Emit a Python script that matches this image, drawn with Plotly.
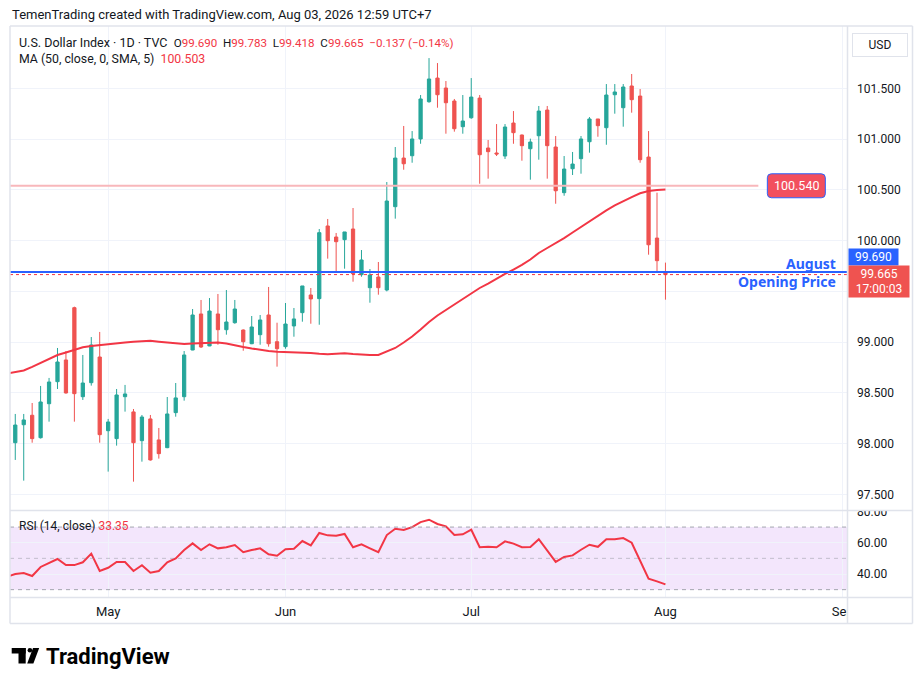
import pandas as pd
import plotly.graph_objects as go
from plotly.subplots import make_subplots

# --- data (DXY daily, TVC) ---
dates = pd.bdate_range("2026-04-16", "2026-08-03").strftime("%Y-%m-%d").tolist()

opens = [98.009, 98.186, 98.279, 98.058, 98.393, 98.610, 98.824, 99.339, 98.462, 98.600,
         98.853, 98.127, 98.049, 98.462, 98.312, 98.029, 98.243, 98.036, 97.960, 98.305,
         98.462, 98.922, 99.277, 98.962, 99.277, 99.122, 99.191, 99.119, 98.984, 99.073,
         99.267, 99.004, 98.955, 99.159, 99.290, 99.464, 99.428, 100.144, 100.035, 100.009,
         100.114, 99.664, 99.536, 99.641, 99.513, 100.334, 100.813, 100.836, 101.001, 101.368,
         101.601, 101.503, 101.375, 101.122, 101.210, 101.404, 100.912, 100.863, 100.833, 101.158,
         101.040, 100.905, 101.033, 101.286, 100.922, 100.472, 100.708, 100.807, 100.974, 101.198,
         101.112, 101.437, 101.309, 101.523, 101.424, 100.823, 100.025, 99.690]
highs = [98.292, 98.292, 98.400, 98.568, 98.647, 98.942, 98.912, 99.349, 98.873, 99.050,
         99.100, 98.243, 98.538, 98.578, 98.341, 98.282, 98.282, 98.154, 98.459, 98.597,
         98.912, 99.326, 99.415, 99.434, 99.474, 99.513, 99.415, 99.125, 99.257, 99.267,
         99.543, 99.191, 99.385, 99.336, 99.553, 99.533, 100.114, 100.213, 100.075, 100.085,
         100.321, 99.907, 99.720, 99.789, 100.577, 100.922, 101.129, 101.079, 101.434, 101.798,
         101.749, 101.572, 101.395, 101.434, 101.601, 101.434, 100.991, 101.148, 101.148, 101.276,
         101.045, 101.004, 101.326, 101.326, 101.030, 100.833, 100.873, 101.030, 101.217, 101.198,
         101.542, 101.542, 101.542, 101.641, 101.493, 101.079, 100.472, 99.783]
lows = [97.839, 97.635, 98.009, 98.050, 98.216, 98.538, 98.492, 98.216, 98.430, 98.571,
        98.009, 97.724, 97.980, 98.315, 97.625, 97.822, 97.832, 97.852, 97.955, 98.265,
        98.423, 98.920, 98.942, 98.960, 98.974, 99.073, 99.181, 98.915, 98.980, 98.974,
        98.955, 98.758, 98.935, 99.053, 99.201, 99.181, 99.171, 99.822, 99.684, 99.723,
        99.595, 99.644, 99.388, 99.467, 99.500, 100.216, 100.698, 100.767, 100.954, 101.358,
        101.309, 101.053, 101.073, 101.053, 101.200, 100.560, 100.610, 100.833, 100.804, 100.954,
        100.787, 100.600, 100.797, 100.610, 100.363, 100.442, 100.646, 100.659, 100.866, 101.023,
        100.944, 101.250, 101.122, 101.260, 100.767, 99.861, 99.694, 99.418]
closes = [98.183, 98.233, 98.049, 98.410, 98.607, 98.804, 98.499, 98.492, 98.597, 98.972,
          98.088, 98.213, 98.479, 98.489, 98.009, 98.262, 97.839, 97.901, 98.292, 98.450,
          98.873, 99.267, 98.952, 99.306, 99.122, 99.198, 99.326, 99.004, 99.149, 99.218,
          98.984, 98.935, 99.178, 99.228, 99.553, 99.425, 100.078, 99.999, 99.989, 100.085,
          99.674, 99.809, 99.661, 99.536, 100.390, 100.813, 100.757, 101.001, 101.395, 101.592,
          101.437, 101.358, 101.102, 101.178, 101.414, 100.846, 100.876, 100.853, 101.119, 101.063,
          100.935, 100.971, 101.276, 100.935, 100.491, 100.705, 100.754, 101.001, 101.198, 101.132,
          101.434, 101.464, 101.513, 101.388, 100.797, 99.959, 99.802, 99.665]

# indicators start one bar earlier so the lines enter from the left edge
ind_dates = ["2026-04-15"] + dates
ma50 = [98.691, 98.706, 98.720, 98.755, 98.794, 98.837, 98.873, 98.898, 98.925, 98.949,
        98.962, 98.972, 98.981, 98.988, 98.996, 99.004, 99.011, 99.013, 99.004, 98.994,
        98.986, 98.981, 98.986, 98.988, 98.994, 98.996, 98.986, 98.967, 98.952, 98.937,
        98.922, 98.912, 98.906, 98.903, 98.901, 98.900, 98.893, 98.885, 98.880, 98.885,
        98.890, 98.883, 98.876, 98.873, 98.873, 98.907, 98.942, 98.996, 99.055, 99.124,
        99.198, 99.262, 99.316, 99.370, 99.430, 99.484, 99.533, 99.577, 99.627, 99.671,
        99.715, 99.760, 99.814, 99.878, 99.927, 99.973, 100.025, 100.080, 100.134, 100.190,
        100.247, 100.298, 100.346, 100.390, 100.429, 100.466, 100.488, 100.498, 100.503]
rsi14 = [38.2,
         40.0, 40.6, 38.7, 44.5, 47.2, 49.6, 45.7, 45.7, 47.5, 53.0,
         41.9, 44.0, 47.7, 47.7, 41.9, 45.6, 40.8, 41.9, 47.5, 50.0,
         55.3, 59.6, 55.3, 59.0, 56.4, 57.1, 58.5, 53.9, 55.3, 56.4,
         52.6, 51.7, 55.8, 56.2, 61.1, 58.3, 66.2, 64.7, 64.5, 65.6,
         57.1, 59.0, 56.4, 53.9, 64.9, 68.9, 68.1, 70.0, 73.2, 74.7,
         72.0, 70.5, 64.9, 65.4, 68.3, 57.1, 57.4, 57.1, 60.9, 59.4,
         57.1, 57.3, 62.2, 54.9, 47.7, 50.9, 51.9, 55.5, 58.7, 57.4,
         62.2, 62.2, 63.0, 60.0, 48.5, 37.0, 35.3, 33.35]

month_ticks = ["2026-05-01", "2026-06-01", "2026-07-01", "2026-08-03", "2026-09-01"]
month_labels = ["May", "Jun", "Jul", "Aug", "Sep"]
price_ticks = [97.5, 98.0, 98.5, 99.0, 99.5, 100.0, 100.5, 101.0, 101.5]
price_labels = ["97.500", "98.000", "98.500", "99.000", "", "100.000", "100.500", "101.000", "101.500"]
rsi_ticks = [40, 60, 80]
rsi_labels = ["40.00", "60.00", "80.00"]

aug_open = 99.690
last_close = 99.665
ray_level = 100.540
ray_end = "2026-08-18"
ray_label_at = "2026-08-24 12:00"

UP = "#26a69a"
DOWN = "#ef5350"
RED = "#f23645"
BLUE = "#2962ff"
TXT = "#131722"
BORDER = "#e0e3eb"
GRID = "#f0f3fa"
FONT = "Roboto, sans-serif"

# plot area in page pixels: x 10..847, y 26..597
def px(x):
    return (x - 10) / 837.0

def py(y):
    return (597 - y) / 571.0

fig = make_subplots(rows=2, cols=1, shared_xaxes=True, vertical_spacing=0.0)

fig.add_trace(go.Candlestick(
    x=dates, open=opens, high=highs, low=lows, close=closes,
    increasing=dict(line=dict(color=UP, width=1), fillcolor=UP),
    decreasing=dict(line=dict(color=DOWN, width=1), fillcolor=DOWN),
    whiskerwidth=0, hoverinfo="skip", name="DXY"
), row=1, col=1)

fig.add_trace(go.Scatter(x=ind_dates, y=ma50, mode="lines",
                         line=dict(color=RED, width=2), hoverinfo="skip"), row=1, col=1)

fig.add_trace(go.Scatter(x=ind_dates, y=rsi14, mode="lines",
                         line=dict(color=RED, width=2), hoverinfo="skip"), row=2, col=1)

fig.update_xaxes(
    type="date", rangebreaks=[dict(bounds=["sat", "mon"])],
    range=["2026-04-15 09:00", "2026-09-01 12:00"],
    tickmode="array", tickvals=month_ticks, ticktext=month_labels,
    showgrid=True, gridcolor=GRID, zeroline=False, showline=False, ticks="",
    rangeslider_visible=False, fixedrange=True,
)
fig.update_xaxes(showticklabels=False, row=1, col=1)
fig.update_xaxes(showticklabels=True, tickfont=dict(size=13, color=TXT),
                 ticklabelstandoff=5, row=2, col=1)

fig.update_yaxes(side="right", showgrid=True, gridcolor=GRID, zeroline=False,
                 showline=False, ticks="", ticklabelstandoff=9, fixedrange=True,
                 tickfont=dict(size=12, color=TXT))
fig.update_yaxes(domain=[0.1515, 1.0], range=[97.341, 102.114], tickmode="array",
                 tickvals=price_ticks, ticktext=price_labels, row=1, col=1)
fig.update_yaxes(domain=[0.0, 0.1515], range=[25.3, 80.6], tickmode="array",
                 tickvals=rsi_ticks, ticktext=rsi_labels, row=2, col=1)

shapes = []
# RSI band and levels
shapes.append(dict(type="rect", xref="x2 domain", yref="y2", x0=0, x1=1, y0=30, y1=70,
                   fillcolor="#f3e6fc", line=dict(width=0), layer="below"))
for lvl, col in [(70, "#a3a6af"), (50, "rgba(149,152,161,0.5)"), (30, "#a3a6af")]:
    shapes.append(dict(type="line", xref="x2 domain", yref="y2", x0=0, x1=1, y0=lvl, y1=lvl,
                       line=dict(color=col, width=1, dash="4px,4px")))

# horizontal ray at 100.540 with its label
shapes.append(dict(type="line", xref="x", yref="y", x0="2026-04-01", x1=ray_end,
                   y0=ray_level, y1=ray_level, line=dict(color="#f8b7bb", width=2)))
shapes.append(dict(type="path", xref="x", yref="y", xsizemode="pixel", ysizemode="pixel",
                   xanchor=ray_label_at, yanchor=ray_level,
                   path="M -25,-12 L 25,-12 Q 29,-12 29,-8 L 29,8 Q 29,12 25,12 "
                        "L -25,12 Q -29,12 -29,8 L -29,-8 Q -29,-12 -25,-12 Z",
                   fillcolor="#f24f5e", line=dict(color=BLUE, width=1)))

# August opening price line and last price line
shapes.append(dict(type="line", xref="x domain", yref="y", x0=0, x1=1, y0=aug_open, y1=aug_open,
                   line=dict(color=BLUE, width=2)))
shapes.append(dict(type="line", xref="x domain", yref="y", x0=0, x1=1, y0=last_close, y1=last_close,
                   line=dict(color=RED, width=1, dash="dot")))

# white covers for the clipped labels on the right/bottom
shapes.append(dict(type="rect", xref="paper", yref="paper", x0=px(847.5), x1=px(912), y0=py(623),
                   y1=py(597.5), fillcolor="white", line=dict(width=0), layer="above"))
shapes.append(dict(type="rect", xref="paper", yref="paper", x0=px(848), x1=px(912), y0=py(510),
                   y1=py(501), fillcolor="white", line=dict(width=0), layer="above"))

# chart frame
frame = [
    (10, 26, 912.5, 26), (10, 623.5, 912.5, 623.5), (10, 26, 10, 623.5),
    (912.5, 26, 912.5, 623.5), (847.5, 26, 847.5, 623.5),
    (10, 597.5, 912.5, 597.5), (10, 510.5, 912.5, 510.5),
]
for x0, y0, x1, y1 in frame:
    shapes.append(dict(type="line", xref="paper", yref="paper", x0=px(x0), x1=px(x1),
                       y0=py(y0), y1=py(y1), line=dict(color=BORDER, width=1.5), layer="above"))

# TradingView logo
shapes.append(dict(type="rect", xref="paper", yref="paper", x0=px(11.7), x1=px(25.7),
                   y0=py(653.5), y1=py(648), fillcolor="#000000", line=dict(width=0)))
shapes.append(dict(type="rect", xref="paper", yref="paper", x0=px(18.5), x1=px(25.7),
                   y0=py(663.5), y1=py(648), fillcolor="#000000", line=dict(width=0)))
shapes.append(dict(type="circle", xref="paper", yref="paper", x0=px(27.6), x1=px(32.2),
                   y0=py(652.6), y1=py(648), fillcolor="#000000", line=dict(width=0)))
slash = [(33.0, 648), (39.2, 648), (33.4, 663.5), (27.2, 663.5)]
shapes.append(dict(type="path", xref="paper", yref="paper",
                   path="M " + " L ".join(f"{px(a):.5f},{py(b):.5f}" for a, b in slash) + " Z",
                   fillcolor="#000000", line=dict(width=0)))

fig.update_layout(shapes=shapes)

def red(v):
    return f"<span style='color:{RED}'>{v}</span>"

def small(v):
    return f"<span style='font-size:11.6px'>{v}</span>"

sp = "\u00a0\u00a0"
head1 = ("U.S. Dollar Index · 1D · TVC" + sp + small("O" + red("99.690") + sp + "H" + red("99.783")
         + sp + "L" + red("99.418") + sp + "C" + red("99.665") + sp + red("\u22120.137 (\u22120.14%)")))
head2 = "MA (50, close, 0, SMA, 5)" + sp + red("100.503")

ann = [
    dict(text="TemenTrading created with TradingView.com, Aug 03, 2026 12:59 UTC+7",
         xref="paper", yref="paper", x=px(10), y=py(15), xanchor="left", yanchor="middle",
         showarrow=False, font=dict(size=13, color=TXT)),
    dict(text=head1, xref="paper", yref="paper", x=px(17), y=py(42), xanchor="left",
         yanchor="middle", showarrow=False, font=dict(size=12.5, color=TXT)),
    dict(text=head2, xref="paper", yref="paper", x=px(17), y=py(59), xanchor="left",
         yanchor="middle", showarrow=False, font=dict(size=12.3, color=TXT)),
    dict(text="USD", xref="paper", yref="paper", x=px(880), y=py(45), xanchor="center",
         yanchor="middle", showarrow=False, font=dict(size=12, color=TXT),
         bordercolor=BORDER, borderwidth=1, borderpad=4, width=46, height=14, bgcolor="white"),
    dict(text="100.540", xref="x", yref="y", x=ray_label_at, y=ray_level, showarrow=False,
         font=dict(size=12.5, color="white")),
    dict(text="99.690", xref="paper", yref="y", x=1, y=aug_open, xanchor="left", yanchor="middle",
         xshift=1, yshift=15, showarrow=False, bgcolor=BLUE, font=dict(size=12, color="white"),
         width=45, height=12, borderpad=2),
    dict(text="99.665<br>17:00:03", xref="paper", yref="y", x=1, y=last_close, xanchor="left",
         yanchor="middle", xshift=1, yshift=-7, showarrow=False, bgcolor=DOWN,
         font=dict(size=12, color="white"), width=56, height=27, borderpad=2),
    dict(text="August<br>Opening Price", xref="paper", yref="y", x=px(838), y=aug_open,
         xanchor="right", yanchor="middle", align="right", showarrow=False,
         font=dict(family="Noto Sans", size=14, color=BLUE, weight="bold")),
    dict(text="RSI (14, close)" + "\u00a0" + red("33.35"), xref="paper", yref="paper",
         x=px(17), y=py(526), xanchor="left", yanchor="middle", showarrow=False,
         font=dict(size=12, color=TXT)),
    dict(text="TradingView", xref="paper", yref="paper", x=px(43.5), y=py(656),
         xanchor="left", yanchor="middle", showarrow=False,
         font=dict(family="Roboto", size=22, color="#000000", weight="bold")),
]

fig.update_layout(
    annotations=ann,
    width=923, height=685,
    margin=dict(l=10, r=76, t=26, b=88),
    paper_bgcolor="white", plot_bgcolor="white",
    showlegend=False, hovermode=False, dragmode=False,
    boxgap=0.45,
    font=dict(family=FONT, size=12, color=TXT),
)

fig.write_html("out.html", config={"displayModeBar": False},
               post_script="document.body.style.margin='0';")
